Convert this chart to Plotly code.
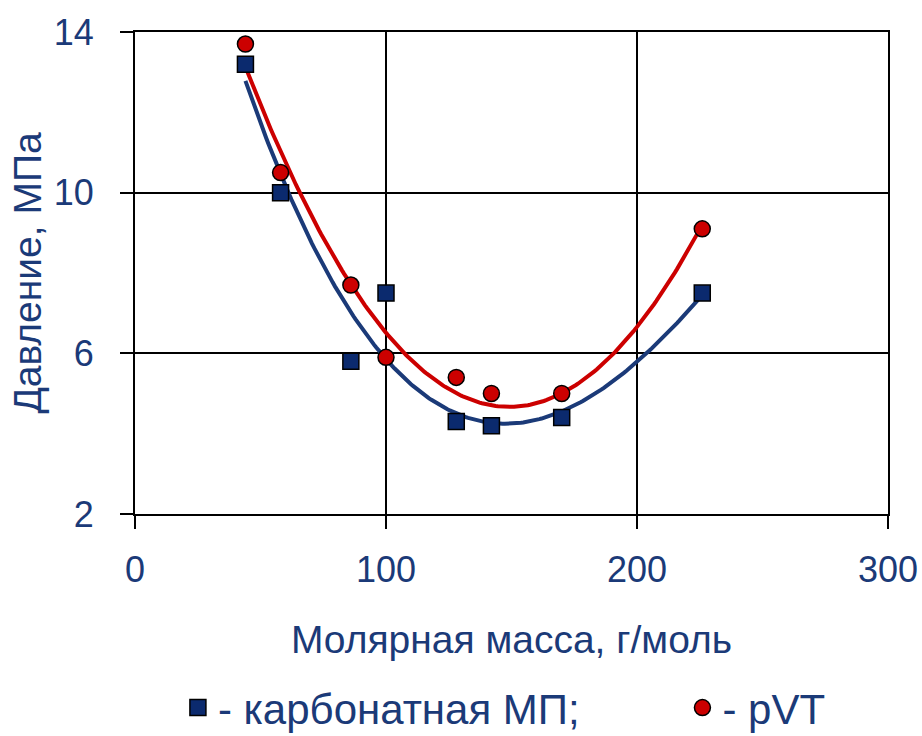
import numpy as np
import plotly.graph_objects as go

# Data
molar_mass = [44, 58, 86, 100, 128, 142, 170, 226]
p_carbonate = [13.2, 10.0, 5.8, 7.5, 4.3, 4.2, 4.4, 7.5]
p_pvt = [13.7, 10.5, 7.7, 5.9, 5.4, 5.0, 5.0, 9.1]

x_ticks = [0, 100, 200, 300]
y_ticks = [2, 6, 10, 14]

NAVY = "#1B3A78"
BLUE_LINE = "#1B3A78"
BLUE_FILL = "#0B2A6E"
RED = "#CC0000"
FONT = "Liberation Sans, Arial, sans-serif"

# Polynomial trendlines fitted to the data (as in the original spreadsheet)
xf = np.linspace(min(molar_mass), max(molar_mass), 200)
fit_c = np.polyval(np.polyfit(molar_mass, p_carbonate, 3), xf)
fit_p = np.polyval(np.polyfit(molar_mass, p_pvt, 2), xf)

fig = go.Figure()
fig.add_trace(go.Scatter(x=xf, y=fit_c, mode="lines", line=dict(color=BLUE_LINE, width=4),
                         showlegend=False, hoverinfo="skip"))
fig.add_trace(go.Scatter(x=xf, y=fit_p, mode="lines", line=dict(color=RED, width=4),
                         showlegend=False, hoverinfo="skip"))
fig.add_trace(go.Scatter(x=molar_mass, y=p_carbonate, mode="markers", name="- карбонатная МП;",
                         legend="legend",
                         marker=dict(symbol="square", size=16, color=BLUE_FILL,
                                     line=dict(color="black", width=1.5))))
fig.add_trace(go.Scatter(x=molar_mass, y=p_pvt, mode="markers", name="- pVT",
                         legend="legend2",
                         marker=dict(symbol="circle", size=16, color=RED,
                                     line=dict(color="black", width=1.5))))

axis_common = dict(
    showline=True, linecolor="black", linewidth=2, mirror=True,
    showgrid=True, gridcolor="black", gridwidth=1.5,
    ticks="outside", ticklen=13, tickwidth=2, tickcolor="black",
    tickfont=dict(family=FONT, size=36, color=NAVY),
    zeroline=False, automargin=False,
)

legend_common = dict(orientation="h", yanchor="middle", y=-0.402, xanchor="left",
                     font=dict(family=FONT, size=42, color=NAVY),
                     bgcolor="rgba(0,0,0,0)", borderwidth=0)

fig.update_layout(
    width=922, height=736,
    margin=dict(l=135, r=34, t=32, b=222, autoexpand=False),
    paper_bgcolor="white", plot_bgcolor="white",
    font=dict(family=FONT, color=NAVY),
    xaxis=dict(range=[0, 300], tickvals=x_ticks, ticklabelstandoff=10,
               title=dict(text="Молярная масса, г/моль", font=dict(family=FONT, size=39, color=NAVY), standoff=36),
               **axis_common),
    yaxis=dict(range=[2, 14], tickvals=y_ticks, ticklabelstandoff=19,
               title=dict(text="Давление, МПа", font=dict(family=FONT, size=39, color=NAVY), standoff=0),
               **axis_common),
    legend=dict(x=0.057, **legend_common),
    legend2=dict(x=0.727, **legend_common),
)

# Remove the default page margin so the figure fills the window exactly
fig.write_html("out.html", config={"displayModeBar": False},
               post_script="document.body.style.margin='0';")
